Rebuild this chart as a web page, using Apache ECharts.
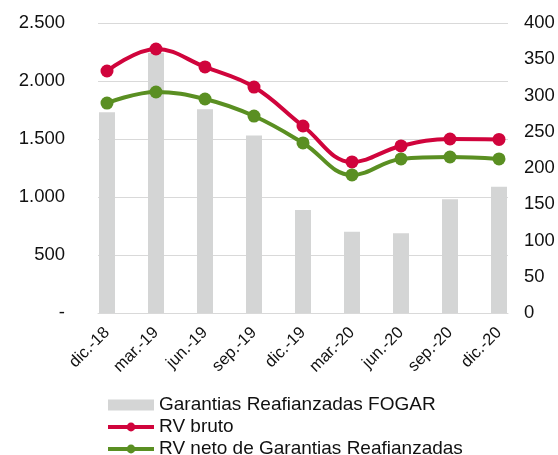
<!DOCTYPE html>
<html lang="es">
<head>
<meta charset="utf-8">
<script src="https://cdn.jsdelivr.net/npm/echarts@6/dist/echarts.min.js"></script>
<style>
  html, body { margin: 0; padding: 0; background: #fff; }
  #chart { width: 558px; height: 455px; }
</style>
</head>
<body>
<div id="chart"></div>
<script>
// datos
const meses = ['dic.-18', 'mar.-19', 'jun.-19', 'sep.-19', 'dic.-19', 'mar.-20', 'jun.-20', 'sep.-20', 'dic.-20'];
const garantiasFogar = [277, 359, 281, 245, 142, 112, 110, 157, 174];
const rvBruto = [2086, 2276, 2121, 1948, 1612, 1302, 1440, 1500, 1496];
const rvNeto = [1810, 1905, 1845, 1698, 1466, 1190, 1328, 1345, 1328];

const fmtMiles = v => v === 0 ? '-' : String(v).replace(/\B(?=(\d{3})+(?!\d))/g, '.');

let chart = echarts.init(document.getElementById('chart'));
chart.setOption({
  animation: false,
  textStyle: { fontFamily: 'Liberation Sans, Arial, sans-serif' },
  grid: [
    { left: 107, right: 59, top: 23, bottom: 142 },
    // solo para las lineas de fondo, algo mas anchas que las categorias
    { left: 98, right: 50, top: 23, bottom: 142 }
  ],
  legend: {
    orient: 'vertical',
    left: 106, top: 394, height: 80, padding: 0,
    itemWidth: 46, itemHeight: 11, itemGap: 0,
    textStyle: { fontSize: 19, color: '#111', lineHeight: 22 },
    data: [
      { name: 'Garantias Reafianzadas FOGAR', icon: 'rect' },
      { name: 'RV bruto', lineStyle: { width: 4 } },
      { name: 'RV neto de Garantias Reafianzadas', lineStyle: { width: 4 } }
    ]
  },
  xAxis: [
    {
      type: 'category',
      data: meses,
      boundaryGap: false,
      axisLine: { show: false },
      axisTick: { show: false },
      axisLabel: { rotate: 45, fontSize: 16.5, color: '#111', margin: 17 }
    },
    {
      type: 'value', gridIndex: 1, min: 0, max: 1,
      axisLine: { show: true, lineStyle: { color: '#d9d9d9', width: 1 } },
      axisTick: { show: false }, axisLabel: { show: false }, splitLine: { show: false }
    }
  ],
  yAxis: [
    {
      type: 'value', min: 0, max: 2500, interval: 500,
      axisLabel: { fontSize: 18.5, color: '#111', margin: 42, formatter: fmtMiles },
      splitLine: { show: false },
      axisLine: { show: false }, axisTick: { show: false }
    },
    {
      type: 'value', min: 0, max: 400, interval: 50,
      axisLabel: { fontSize: 18.5, color: '#111', margin: 25 },
      splitLine: { show: false },
      axisLine: { show: false }, axisTick: { show: false }
    },
    {
      type: 'value', gridIndex: 1, min: 0, max: 2500, interval: 500,
      axisLabel: { show: false },
      splitLine: { lineStyle: { color: '#d9d9d9' } },
      axisLine: { show: false }, axisTick: { show: false }
    }
  ],
  series: [
    {
      name: 'Garantias Reafianzadas FOGAR',
      type: 'bar',
      yAxisIndex: 1,
      data: garantiasFogar,
      barWidth: 16,
      clip: false,
      itemStyle: { color: '#d4d5d5' }
    },
    {
      name: 'RV bruto',
      type: 'line',
      data: rvBruto,
      smooth: 0.4,
      symbol: 'circle', symbolSize: 13,
      lineStyle: { color: '#d0043c', width: 4 },
      itemStyle: { color: '#d0043c' }
    },
    {
      name: 'RV neto de Garantias Reafianzadas',
      type: 'line',
      data: rvNeto,
      smooth: 0.4,
      symbol: 'circle', symbolSize: 13,
      lineStyle: { color: '#5a8f22', width: 4 },
      itemStyle: { color: '#5a8f22' }
    }
  ]
});
</script>
</body>
</html>
